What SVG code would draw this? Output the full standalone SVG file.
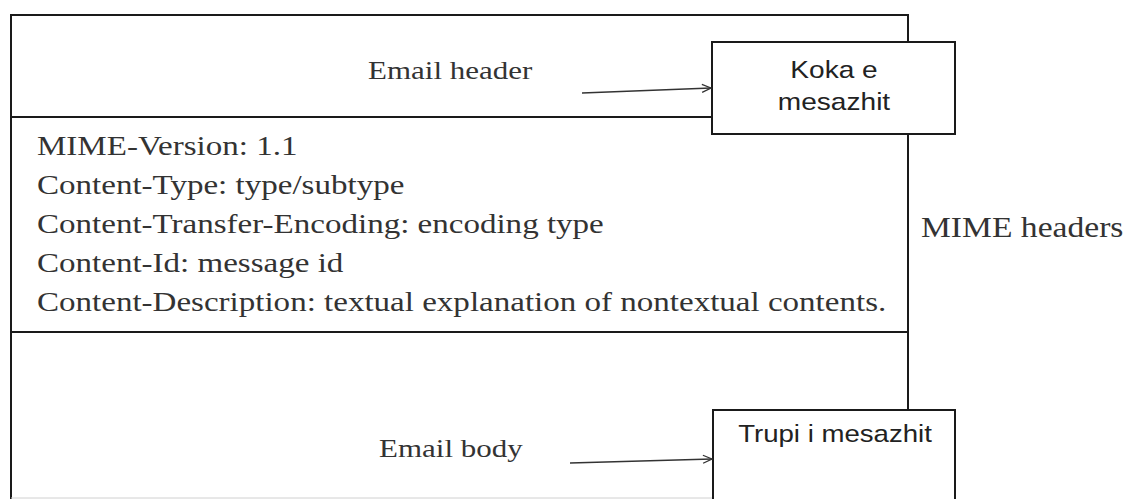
<svg xmlns="http://www.w3.org/2000/svg" width="1128" height="499" viewBox="0 0 1128 499">
<defs>
<style>
.ln{stroke:#1a1a1a;stroke-width:2;fill:none}
.bx{stroke:#1a1a1a;stroke-width:2;fill:#fff}
.serif{font-family:"Liberation Serif","Times New Roman",serif;fill:#333}
.sans{font-family:"Liberation Sans",Arial,sans-serif;fill:#222}
.arr{stroke:#333;stroke-width:1.5;fill:none}
</style>
<marker id="open" markerWidth="12" markerHeight="10" refX="10" refY="5" orient="auto" markerUnits="userSpaceOnUse">
<path d="M1,1 L10,5 L1,9" fill="none" stroke="#333" stroke-width="1.3"/>
</marker>
</defs>
<rect width="1128" height="499" fill="#fff"/>
<g id="message">
<path class="ln" d="M11,499 L11,15 L908,15 L908,410"/>
<line class="ln" x1="11" y1="117" x2="712" y2="117"/>
<line class="ln" x1="11" y1="332" x2="908" y2="332"/>
<line x1="11" y1="498" x2="713" y2="498" stroke="#d0d0d0" stroke-width="1"/>
</g>
<g id="email-header">
<text class="serif" font-size="25" transform="translate(368 79) scale(1.24 1)">Email header</text>
</g>
<g id="mime-fields" class="serif" font-size="28" transform="translate(37 0) scale(1.18 1)">
<text x="0" y="155">MIME-Version: 1.1</text>
<text x="0" y="194">Content-Type: type/subtype</text>
<text x="0" y="233">Content-Transfer-Encoding: encoding type</text>
<text x="0" y="272">Content-Id: message id</text>
<text x="0" y="311">Content-Description: textual explanation of nontextual contents.</text>
</g>
<g id="mime-headers-label">
<text class="serif" font-size="30" transform="translate(921 237) scale(1.12 1)">MIME headers</text>
</g>
<g id="email-body">
<text class="serif" font-size="25" transform="translate(379 457) scale(1.24 1)">Email body</text>
</g>
<g id="koka">
<rect class="bx" x="712" y="42" width="243" height="92"/>
<text class="sans" font-size="24" text-anchor="middle" transform="translate(834 78) scale(1.17 1)">Koka e</text>
<text class="sans" font-size="24" text-anchor="middle" transform="translate(834 110) scale(1.17 1)">mesazhit</text>
</g>
<g id="trupi">
<rect class="bx" x="713" y="410" width="242" height="95"/>
<text class="sans" font-size="24" text-anchor="middle" transform="translate(835 442) scale(1.15 1)">Trupi i mesazhit</text>
</g>
<g id="connectors">
<line class="arr" x1="582" y1="93" x2="711" y2="88" marker-end="url(#open)"/>
<line class="arr" x1="570" y1="463" x2="712" y2="459" marker-end="url(#open)"/>
</g>
</svg>
